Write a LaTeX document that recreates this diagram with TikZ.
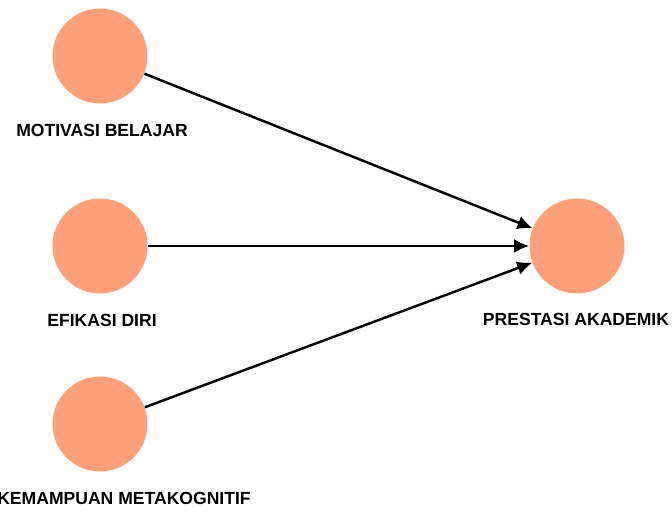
\documentclass[tikz,border=0pt]{standalone}
\usepackage{fontspec}
\setmainfont{Liberation Sans}
\usetikzlibrary{arrows.meta}
\definecolor{salmon}{RGB}{255,160,122}
\begin{document}
\begin{tikzpicture}[x=0.02cm,y=-0.02cm,>={Latex[length=3mm,width=2.8mm]}]
    \tikzstyle{construct}=[circle,fill=salmon,minimum size=1.9cm,inner sep=0pt]
    \tikzstyle{caption}=[font=\bfseries\fontsize{10}{12}\selectfont,inner sep=0pt]
    \useasboundingbox (0,0) rectangle (672,510);

    \foreach \name/\y/\txt/\dx in {MB/56/MOTIVASI BELAJAR/2, ED/246/EFIKASI DIRI/2, KM/424/KEMAMPUAN METAKOGNITIF/24}
    {
        \node[construct] (\name) at (100,\y) {};
        \node[caption] (\name-txt) at (100+\dx,\y+74) {\txt};
    }

    \node[construct] (PA) at (577,246) {};
    \node[caption] (PA-txt) at (576,319) {PRESTASI AKADEMIK};

    \foreach \from in {MB,ED,KM}
        \draw[->,line width=1.4pt] (\from) -- (PA);
\end{tikzpicture}
\end{document}
